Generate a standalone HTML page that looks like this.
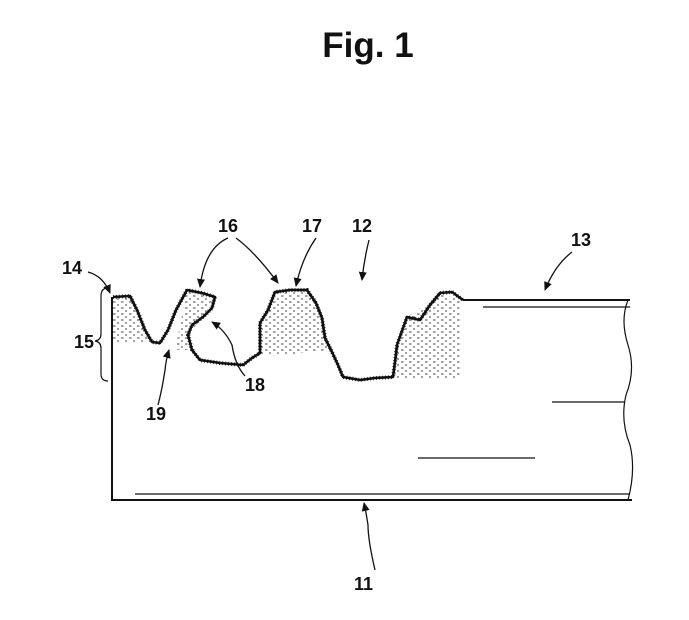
<!DOCTYPE html>
<html><head><style>
body{margin:0;background:#fff;width:689px;height:615px;overflow:hidden}
svg text{font-family:"Liberation Sans",sans-serif;font-weight:bold;fill:#111}
</style></head><body>
<svg width="689" height="615" viewBox="0 0 689 615" xmlns="http://www.w3.org/2000/svg">
<defs><marker id="a" markerWidth="10" markerHeight="10" refX="8" refY="5" orient="auto" markerUnits="userSpaceOnUse"><path d="M0,1 L9,5 L0,9 Z" fill="#111"/></marker>
<pattern id="d" width="8" height="6" patternUnits="userSpaceOnUse"><path d="M1,2h2.5M5,5h2" stroke="#444" stroke-width="0.9"/></pattern></defs>
<text x="368" y="57" font-size="35" text-anchor="middle">Fig. 1</text>
<path d="M113,297 L130,296 L150,342 L112,342 Z M185,290 L215,297 L203,317 L190,333 L195,350 L175,350 L185,300 Z M260,353 L262,325 L275,292 L307,290 L320,310 L330,350 L270,356 Z M395,350 L407,317 L440,293 L460,300 L460,378 L395,378 Z" fill="url(#d)"/>
<path d="M113,297 L130,296 L137,310 L145,330 L152,342 L160,343 L168,330 L176,310 L187,290 L202,293 L215,297 L212,308 L203,317 L192,325 L188,335 L192,350 L200,360 L220,363 L243,365 L252,358 L260,353 L260,323 L268,310 L275,292 L290,290 L307,290 L316,303 L322,318 L325,338 L332,352 L338,365 L343,377 L360,380 L375,378 L393,377 L395,362 L397,345 L407,317 L420,320 L430,305 L440,293 L452,292 L463,300" fill="none" stroke="#111" stroke-width="2.6" stroke-linejoin="round"/>
<path d="M113,297 L130,296 L137,310 L145,330 L152,342 L160,343 L168,330 L176,310 L187,290 L202,293 L215,297 L212,308 L203,317 L192,325 L188,335 L192,350 L200,360 L220,363 L243,365 L252,358 L260,353 L260,323 L268,310 L275,292 L290,290 L307,290 L316,303 L322,318 L325,338 L332,352 L338,365 L343,377 L360,380 L375,378 L393,377 L395,362 L397,345 L407,317 L420,320 L430,305 L440,293 L452,292 L463,300" fill="none" stroke="#111" stroke-width="4" stroke-dasharray="0.8 2.2"/>
<path d="M463,300 L630,300" stroke="#111" stroke-width="2"/>
<path d="M112,297 L112,500 L632,500" fill="none" stroke="#111" stroke-width="2"/>
<path d="M135,494 L630,494" stroke="#111" stroke-width="1.2"/>
<path d="M628,300 Q620,320 628,345 Q636,370 626,395 Q620,420 630,445 Q636,470 628,500" fill="none" stroke="#111" stroke-width="1.2"/>
<path d="M483,307 L630,307 M552,402 L625,402 M418,458 L535,458" stroke="#111" stroke-width="1.2"/>
<path d="M108,288 Q101,288 101,296 L101,334 Q101,340 95,341 Q101,342 101,348 L101,374 Q101,381 108,381" fill="none" stroke="#111" stroke-width="1.2"/>
<g font-size="18">
<text x="62" y="274">14</text>
<text x="74" y="348">15</text>
<text x="218" y="232">16</text>
<text x="302" y="232">17</text>
<text x="352" y="232">12</text>
<text x="571" y="246">13</text>
<text x="245" y="391">18</text>
<text x="146" y="420">19</text>
<text x="354" y="590">11</text>
</g>
<g fill="none" stroke="#111" stroke-width="1.3" marker-end="url(#a)">
<path d="M88,272 Q103,276 110,293"/>
<path d="M228,238 Q205,248 200,287"/>
<path d="M236,238 Q255,252 278,283"/>
<path d="M316,238 Q302,258 296,286"/>
<path d="M369,240 Q364,260 362,280"/>
<path d="M572,252 Q555,265 545,290"/>
<path d="M245,376 Q235,365 232,345 Q225,330 212,322"/>
<path d="M158,405 Q162,390 165,370 Q166,360 169,350"/>
<path d="M375,570 Q368,540 368,525 Q366,512 364,503"/>
</g>
</svg>
</body></html>
